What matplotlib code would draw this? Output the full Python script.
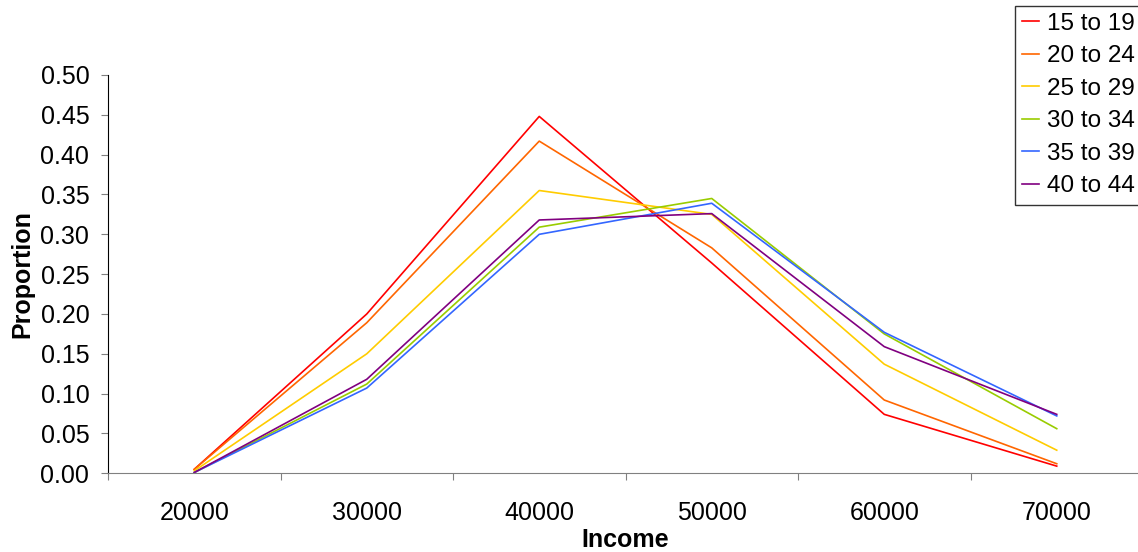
import numpy as np
import matplotlib
matplotlib.use("Agg")
import matplotlib.pyplot as plt
from matplotlib.ticker import FixedLocator, NullFormatter, FixedFormatter

plt.rcParams['font.family'] = ['Liberation Sans', 'DejaVu Sans']

# proportion of each age group falling into each income band
incomes = ['20000', '30000', '40000', '50000', '60000', '70000']
age_groups = ['15 to 19', '20 to 24', '25 to 29', '30 to 34', '35 to 39', '40 to 44']
p15_19 = [0.005, 0.200, 0.448, 0.264, 0.074, 0.009]
p20_24 = [0.005, 0.189, 0.417, 0.283, 0.092, 0.012]
p25_29 = [0.003, 0.150, 0.355, 0.325, 0.137, 0.029]
p30_34 = [0.001, 0.112, 0.309, 0.345, 0.175, 0.056]
p35_39 = [0.001, 0.107, 0.300, 0.339, 0.177, 0.072]
p40_44 = [0.001, 0.118, 0.318, 0.326, 0.159, 0.074]

series = [p15_19, p20_24, p25_29, p30_34, p35_39, p40_44]
colors = ['#FF0000', '#FF6600', '#FFCC00', '#99CC00', '#3366FF', '#800080']

W, H = 1138, 552
fig = plt.figure(figsize=(W / 100, H / 100), dpi=100)
ax = fig.add_axes([108 / W, (H - 473.3) / H, (1143 - 108) / W, 398.3 / H])

x = np.arange(len(incomes))
for vals, lab, c in zip(series, age_groups, colors):
    ax.plot(x, vals, color=c, lw=1.2, label=lab)

ax.set_xlim(-0.5, len(incomes) - 0.5)
ax.set_ylim(0, 0.5)
yt = np.arange(0, 0.51, 0.05)
ax.set_yticks(yt)
ax.set_yticklabels(['%.2f' % v for v in yt])

# tick marks sit between categories, labels at the category centres
ax.xaxis.set_major_locator(FixedLocator(np.arange(-0.5, len(incomes), 1.0)))
ax.xaxis.set_major_formatter(NullFormatter())
ax.xaxis.set_minor_locator(FixedLocator(x))
ax.xaxis.set_minor_formatter(FixedFormatter(incomes))
ax.tick_params(axis='x', which='major', length=5, color='#808080', direction='out')
ax.tick_params(axis='x', which='minor', length=0, pad=20, labelsize=18)
ax.tick_params(axis='y', length=5, color='#808080', direction='out', pad=8.5, labelsize=18)

for s in ['top', 'right']:
    ax.spines[s].set_visible(False)
ax.spines['bottom'].set_color('#808080')
ax.spines['left'].set_color('black')

ax.set_xlabel('Income', fontsize=18, fontweight='bold', labelpad=2)
ax.set_ylabel('Proportion', fontsize=18, fontweight='bold', labelpad=4)

leg = ax.legend(loc='upper left', bbox_to_anchor=(1015 / W, 1 - 5.7 / H),
                bbox_transform=fig.transFigure, borderaxespad=0, fontsize=17.5,
                handlelength=0.7, handletextpad=0.3, labelspacing=0.43,
                borderpad=0.3, fancybox=False, framealpha=1)
leg.get_frame().set_edgecolor('#333333')
leg.get_frame().set_linewidth(1.0)

fig.savefig('out.png', dpi=100)
